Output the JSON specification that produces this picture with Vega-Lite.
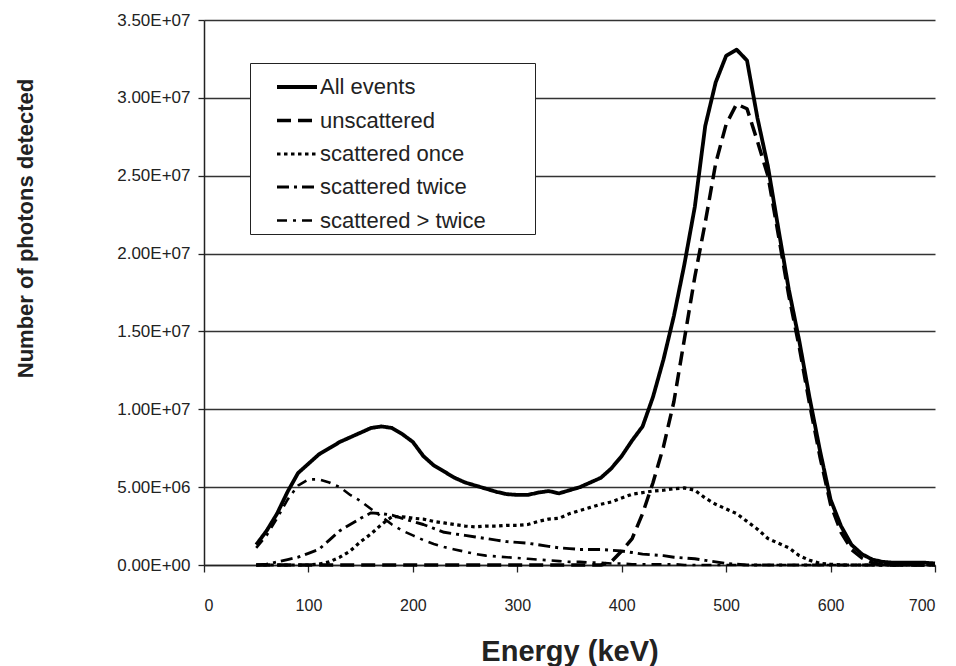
{
  "$schema": "https://vega.github.io/schema/vega-lite/v6.json",
  "width": 731,
  "height": 545,
  "autosize": {"type": "none"},
  "padding": {"left": 204, "top": 20, "right": 21, "bottom": 101},
  "background": "white",
  "config": {"font": "Liberation Sans", "view": {"stroke": null}},
  "data": {"values": [
    {"E": 50, "A": 1.3e6, "U": 0, "O": 0, "T": 0, "M": 1.1e6},
    {"E": 60, "A": 2.2e6, "U": 0, "O": 0, "T": 0.05e6, "M": 1.9e6},
    {"E": 70, "A": 3.3e6, "U": 0, "O": 0, "T": 0.2e6, "M": 3.0e6},
    {"E": 80, "A": 4.7e6, "U": 0, "O": 0, "T": 0.35e6, "M": 4.2e6},
    {"E": 90, "A": 5.9e6, "U": 0, "O": 0, "T": 0.5e6, "M": 5.1e6},
    {"E": 100, "A": 6.5e6, "U": 0, "O": 0, "T": 0.75e6, "M": 5.5e6},
    {"E": 110, "A": 7.1e6, "U": 0, "O": 0.05e6, "T": 1.0e6, "M": 5.5e6},
    {"E": 120, "A": 7.5e6, "U": 0, "O": 0.2e6, "T": 1.6e6, "M": 5.3e6},
    {"E": 130, "A": 7.9e6, "U": 0, "O": 0.5e6, "T": 2.2e6, "M": 5.0e6},
    {"E": 140, "A": 8.2e6, "U": 0, "O": 0.9e6, "T": 2.6e6, "M": 4.5e6},
    {"E": 150, "A": 8.5e6, "U": 0, "O": 1.5e6, "T": 3.0e6, "M": 4.1e6},
    {"E": 160, "A": 8.8e6, "U": 0, "O": 2.0e6, "T": 3.35e6, "M": 3.6e6},
    {"E": 170, "A": 8.9e6, "U": 0, "O": 2.6e6, "T": 3.3e6, "M": 3.1e6},
    {"E": 180, "A": 8.8e6, "U": 0, "O": 3.1e6, "T": 3.2e6, "M": 2.6e6},
    {"E": 190, "A": 8.4e6, "U": 0, "O": 3.1e6, "T": 3.0e6, "M": 2.2e6},
    {"E": 200, "A": 7.9e6, "U": 0, "O": 3.0e6, "T": 2.8e6, "M": 1.9e6},
    {"E": 210, "A": 7.0e6, "U": 0, "O": 2.95e6, "T": 2.6e6, "M": 1.6e6},
    {"E": 220, "A": 6.4e6, "U": 0, "O": 2.8e6, "T": 2.35e6, "M": 1.35e6},
    {"E": 230, "A": 6.0e6, "U": 0, "O": 2.7e6, "T": 2.1e6, "M": 1.15e6},
    {"E": 240, "A": 5.6e6, "U": 0, "O": 2.6e6, "T": 2.0e6, "M": 1.0e6},
    {"E": 250, "A": 5.3e6, "U": 0, "O": 2.5e6, "T": 1.9e6, "M": 0.85e6},
    {"E": 260, "A": 5.1e6, "U": 0, "O": 2.45e6, "T": 1.8e6, "M": 0.7e6},
    {"E": 270, "A": 4.9e6, "U": 0, "O": 2.5e6, "T": 1.7e6, "M": 0.6e6},
    {"E": 280, "A": 4.7e6, "U": 0, "O": 2.5e6, "T": 1.6e6, "M": 0.55e6},
    {"E": 290, "A": 4.55e6, "U": 0, "O": 2.55e6, "T": 1.5e6, "M": 0.5e6},
    {"E": 300, "A": 4.5e6, "U": 0, "O": 2.55e6, "T": 1.45e6, "M": 0.45e6},
    {"E": 310, "A": 4.5e6, "U": 0, "O": 2.6e6, "T": 1.4e6, "M": 0.4e6},
    {"E": 320, "A": 4.65e6, "U": 0, "O": 2.8e6, "T": 1.3e6, "M": 0.35e6},
    {"E": 330, "A": 4.75e6, "U": 0, "O": 2.95e6, "T": 1.2e6, "M": 0.3e6},
    {"E": 340, "A": 4.6e6, "U": 0, "O": 3.0e6, "T": 1.1e6, "M": 0.25e6},
    {"E": 350, "A": 4.8e6, "U": 0, "O": 3.3e6, "T": 1.05e6, "M": 0.2e6},
    {"E": 360, "A": 5.0e6, "U": 0, "O": 3.5e6, "T": 1.0e6, "M": 0.2e6},
    {"E": 370, "A": 5.3e6, "U": 0, "O": 3.7e6, "T": 1.0e6, "M": 0.15e6},
    {"E": 380, "A": 5.6e6, "U": 0, "O": 3.9e6, "T": 1.0e6, "M": 0.15e6},
    {"E": 390, "A": 6.2e6, "U": 0.2e6, "O": 4.05e6, "T": 0.95e6, "M": 0.1e6},
    {"E": 400, "A": 7.0e6, "U": 0.9e6, "O": 4.3e6, "T": 0.9e6, "M": 0.1e6},
    {"E": 410, "A": 8.0e6, "U": 1.7e6, "O": 4.55e6, "T": 0.8e6, "M": 0.05e6},
    {"E": 420, "A": 8.9e6, "U": 3.3e6, "O": 4.65e6, "T": 0.7e6, "M": 0.05e6},
    {"E": 430, "A": 10.8e6, "U": 5.3e6, "O": 4.75e6, "T": 0.65e6, "M": 0.05e6},
    {"E": 440, "A": 13.2e6, "U": 7.6e6, "O": 4.8e6, "T": 0.6e6, "M": 0.05e6},
    {"E": 450, "A": 16.0e6, "U": 10.5e6, "O": 4.9e6, "T": 0.5e6, "M": 0.05e6},
    {"E": 460, "A": 19.3e6, "U": 14.5e6, "O": 4.95e6, "T": 0.45e6, "M": 0},
    {"E": 470, "A": 23.0e6, "U": 18.5e6, "O": 4.8e6, "T": 0.4e6, "M": 0},
    {"E": 480, "A": 28.2e6, "U": 22.0e6, "O": 4.3e6, "T": 0.3e6, "M": 0},
    {"E": 490, "A": 31.0e6, "U": 25.8e6, "O": 3.9e6, "T": 0.2e6, "M": 0},
    {"E": 500, "A": 32.7e6, "U": 28.3e6, "O": 3.6e6, "T": 0.1e6, "M": 0},
    {"E": 510, "A": 33.1e6, "U": 29.6e6, "O": 3.3e6, "T": 0.05e6, "M": 0},
    {"E": 520, "A": 32.4e6, "U": 29.3e6, "O": 2.8e6, "T": 0, "M": 0},
    {"E": 530, "A": 28.7e6, "U": 27.2e6, "O": 2.3e6, "T": 0, "M": 0},
    {"E": 540, "A": 25.6e6, "U": 25.0e6, "O": 1.7e6, "T": 0, "M": 0},
    {"E": 550, "A": 21.6e6, "U": 21.2e6, "O": 1.4e6, "T": 0, "M": 0},
    {"E": 560, "A": 17.7e6, "U": 17.3e6, "O": 1.1e6, "T": 0, "M": 0},
    {"E": 570, "A": 14.4e6, "U": 14.0e6, "O": 0.6e6, "T": 0, "M": 0},
    {"E": 580, "A": 10.7e6, "U": 10.3e6, "O": 0.3e6, "T": 0, "M": 0},
    {"E": 590, "A": 7.3e6, "U": 6.9e6, "O": 0.1e6, "T": 0, "M": 0},
    {"E": 600, "A": 4.2e6, "U": 3.9e6, "O": 0.05e6, "T": 0, "M": 0},
    {"E": 610, "A": 2.5e6, "U": 2.1e6, "O": 0, "T": 0, "M": 0},
    {"E": 620, "A": 1.3e6, "U": 1.0e6, "O": 0, "T": 0, "M": 0},
    {"E": 630, "A": 0.7e6, "U": 0.45e6, "O": 0, "T": 0, "M": 0},
    {"E": 640, "A": 0.35e6, "U": 0.15e6, "O": 0, "T": 0, "M": 0},
    {"E": 650, "A": 0.2e6, "U": 0, "O": 0, "T": 0, "M": 0},
    {"E": 660, "A": 0.15e6, "U": 0, "O": 0, "T": 0, "M": 0},
    {"E": 670, "A": 0.15e6, "U": 0, "O": 0, "T": 0, "M": 0},
    {"E": 680, "A": 0.15e6, "U": 0, "O": 0, "T": 0, "M": 0},
    {"E": 690, "A": 0.15e6, "U": 0, "O": 0, "T": 0, "M": 0},
    {"E": 700, "A": 0.1e6, "U": 0, "O": 0, "T": 0, "M": 0}
  ]},
  "transform": [
    {"fold": ["A", "U", "O", "T", "M"], "as": ["key", "value"]},
    {"lookup": "key", "from": {"data": {"values": [
      {"key": "A", "series": "All events"},
      {"key": "U", "series": "unscattered"},
      {"key": "O", "series": "scattered once"},
      {"key": "T", "series": "scattered twice"},
      {"key": "M", "series": "scattered > twice"}
    ]}, "key": "key", "fields": ["series"]}}
  ],
  "mark": {"type": "line", "color": "black", "strokeCap": "butt", "strokeJoin": "round"},
  "encoding": {
    "x": {
      "field": "E", "type": "quantitative",
      "scale": {"domain": [0, 700], "nice": false},
      "axis": {
        "values": [0, 100, 200, 300, 400, 500, 600, 700],
        "grid": false,
        "domainColor": "#222", "domainWidth": 1.5,
        "tickColor": "#222", "tickSize": 7, "tickWidth": 1.3,
        "labelFontSize": 16, "labelColor": "#222", "labelPadding": 25,
        "title": "Energy (keV)", "titleFontSize": 29, "titleFontWeight": "bold",
        "titleColor": "#222", "titleY": 86, "titleBaseline": "middle"
      }
    },
    "y": {
      "field": "value", "type": "quantitative",
      "scale": {"domain": [0, 35000000], "nice": false},
      "axis": {
        "values": [0, 5000000, 10000000, 15000000, 20000000, 25000000, 30000000, 35000000],
        "labelExpr": "datum.value == 0 ? '0.00E+00' : format(datum.value / pow(10, floor(log(datum.value) / LN10 + 1e-9)), '.2f') + 'E+' + (floor(log(datum.value) / LN10 + 1e-9) < 10 ? '0' : '') + floor(log(datum.value) / LN10 + 1e-9)",
        "grid": true, "gridColor": "#333", "gridWidth": 1.3,
        "domainColor": "#222", "domainWidth": 1.5,
        "tickColor": "#222", "tickSize": 6, "tickWidth": 1.3,
        "labelFontSize": 17, "labelColor": "#222", "labelPadding": 8,
        "title": "Number of photons detected", "titleFontSize": 22, "titleFontWeight": "bold",
        "titleColor": "#222", "titleX": -179, "titleY": 208, "titleAngle": -90,
        "titleBaseline": "middle", "titleAlign": "center"
      }
    },
    "strokeDash": {
      "field": "series", "type": "nominal",
      "scale": {
        "domain": ["All events", "unscattered", "scattered once", "scattered twice", "scattered > twice"],
        "range": [[1, 0], [14, 7], [3.5, 3.5], [12, 5, 3, 5], [10, 6, 3, 6]]
      },
      "legend": {
        "orient": "none", "legendX": 46, "legendY": 43, "title": null,
        "fillColor": "white", "strokeColor": "#222", "padding": 2,
        "symbolType": "stroke", "symbolSize": 1600, "symbolStrokeColor": "black",
        "symbolOffset": 23, "labelOffset": 1, "rowPadding": 0.5,
        "labelFontSize": 22, "labelColor": "#222", "labelLimit": 500,
        "labelExpr": "datum.label + '\u00a0\u00a0\u00a0\u00a0\u00a0\u2800'"
      }
    },
    "strokeWidth": {
      "field": "series", "type": "nominal",
      "scale": {
        "domain": ["All events", "unscattered", "scattered once", "scattered twice", "scattered > twice"],
        "range": [3.8, 2.6, 3.5, 1.8, 1.3]
      },
      "legend": {
        "orient": "none", "legendX": 46, "legendY": 43, "title": null,
        "fillColor": "white", "strokeColor": "#222", "padding": 2,
        "symbolType": "stroke", "symbolSize": 1600, "symbolStrokeColor": "black",
        "symbolOffset": 23, "labelOffset": 1, "rowPadding": 0.5,
        "labelFontSize": 22, "labelColor": "#222", "labelLimit": 500,
        "labelExpr": "datum.label + '\u00a0\u00a0\u00a0\u00a0\u00a0\u2800'"
      }
    }
  }
}
